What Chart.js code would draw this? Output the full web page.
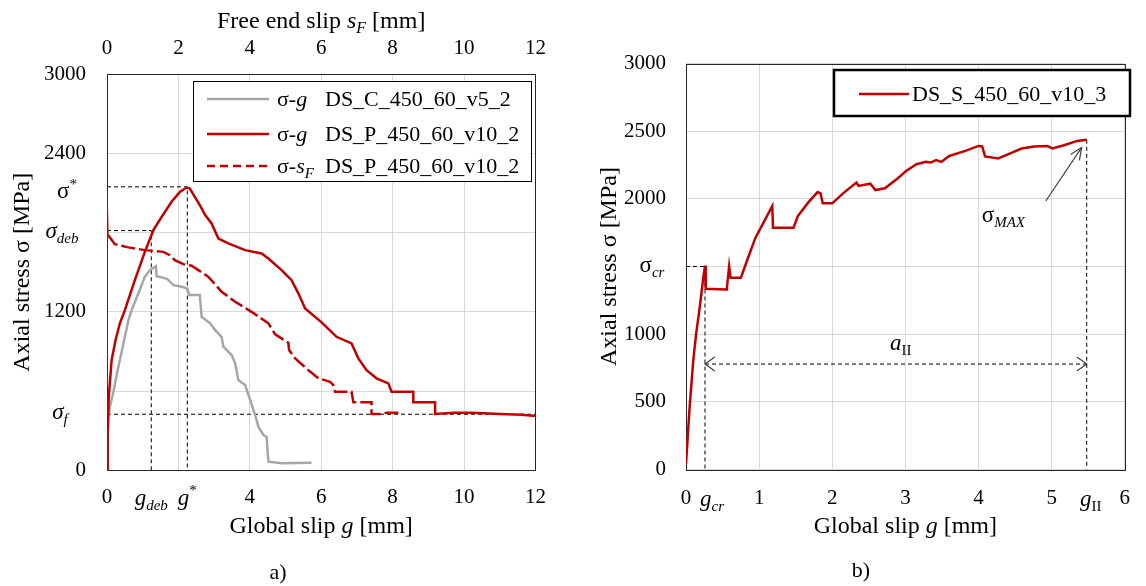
<!DOCTYPE html>
<html lang="en">
<head>
<meta charset="utf-8">
<title>Axial stress vs slip</title>
<script src="https://cdn.jsdelivr.net/npm/chart.js@4.4.1/dist/chart.umd.min.js"></script>
<style>
    html, body { margin: 0; padding: 0; background: #fff; }
    .panel { position: absolute; top: 0; width: 573px; height: 586px; }
    #panelA { left: 0; }
    #panelB { left: 573px; }
</style>
</head>
<body>
<div class="panel" id="panelA"><canvas id="chartA" width="573" height="586"></canvas></div>
<div class="panel" id="panelB"><canvas id="chartB" width="573" height="586"></canvas></div>
<script>
// a) DS_C_450_60_v5_2, stress vs global slip
var cSlip = [0, 0.02, 0.04, 0.08, 0.18, 0.27, 0.36, 0.46, 0.6, 0.69, 0.88, 1.06, 1.2, 1.37, 1.39, 1.62, 1.7, 1.86, 2.09, 2.25, 2.3, 2.6, 2.65, 2.89, 3.03, 3.21, 3.26, 3.49, 3.59, 3.68, 3.87, 4.01, 4.15, 4.24, 4.38, 4.47, 4.52, 4.89, 5.73];
var cStress = [0, 250, 400, 480, 595, 722, 835, 961, 1138, 1213, 1340, 1465, 1516, 1546, 1470, 1455, 1445, 1402, 1390, 1377, 1327, 1327, 1163, 1113, 1062, 1011, 936, 873, 810, 684, 646, 532, 419, 331, 268, 255, 66, 54, 58];

// a) DS_P_450_60_v10_2, stress vs global slip
var pSlip = [0, 0.02, 0.05, 0.13, 0.24, 0.36, 0.5, 0.78, 1.06, 1.3, 1.53, 1.81, 2.04, 2.23, 2.32, 2.46, 2.6, 2.75, 2.93, 3.12, 3.4, 3.87, 4.33, 4.52, 4.89, 5.17, 5.36, 5.55, 6.01, 6.43, 6.85, 7.04, 7.27, 7.55, 7.88, 7.97, 8.58, 8.58, 9.19, 9.19, 9.7, 10.26, 11.0, 11.62, 12.0];
var pStress = [0, 300, 560, 835, 987, 1113, 1213, 1440, 1654, 1818, 1919, 2033, 2108, 2141, 2133, 2070, 2007, 1932, 1869, 1755, 1718, 1667, 1642, 1604, 1516, 1440, 1340, 1226, 1120, 1011, 961, 848, 759, 697, 659, 595, 595, 515, 515, 427, 437, 437, 427, 422, 412];

// a) DS_P_450_60_v10_2, stress vs free end slip
var fSlip = [0.03, 0.22, 0.6, 1.06, 1.58, 1.76, 1.9, 2.14, 2.37, 2.56, 2.84, 3.21, 3.59, 4.05, 4.52, 4.71, 5.08, 5.1, 5.27, 5.64, 5.92, 6.25, 6.34, 6.39, 6.85, 6.9, 7.41, 7.41, 7.74, 7.83, 8.25];
var fStress = [1781, 1712, 1688, 1667, 1654, 1629, 1591, 1561, 1549, 1516, 1465, 1352, 1276, 1200, 1113, 1030, 966, 911, 848, 759, 697, 671, 646, 595, 595, 515, 515, 427, 427, 437, 437];
// part before the free end starts to move
var fRiseSlip = [0, 0, 0.03];
var fRiseStress = [0, 2146, 1781];

// a) characteristic points
var gDeb = 1.24, sigmaDeb = 1815;
var gStar = 2.25, sigmaStar = 2146;
var sigmaF = 425;

// b) DS_S_450_60_v10_3, stress vs global slip
var sSlip = [0, 0.05, 0.10, 0.14, 0.19, 0.23, 0.26, 0.27, 0.55, 0.56, 0.59, 0.61, 0.75, 0.84, 0.95, 1.06, 1.18, 1.19, 1.47, 1.53, 1.67, 1.80, 1.84, 1.87, 2.0, 2.16, 2.33, 2.36, 2.52, 2.59, 2.72, 2.88, 3.01, 3.15, 3.28, 3.35, 3.42, 3.49, 3.6, 3.82, 4.0, 4.05, 4.09, 4.27, 4.41, 4.59, 4.76, 4.94, 5.01, 5.17, 5.35, 5.48];
var sStress = [40, 465, 811, 1009, 1206, 1391, 1507, 1335, 1330, 1345, 1502, 1416, 1416, 1552, 1713, 1824, 1947, 1787, 1787, 1873, 1972, 2050, 2041, 1967, 1967, 2046, 2120, 2095, 2112, 2065, 2078, 2144, 2206, 2256, 2273, 2268, 2287, 2273, 2317, 2354, 2391, 2387, 2313, 2298, 2330, 2372, 2387, 2391, 2372, 2396, 2428, 2436];

// b) characteristic points
var gCr = 0.26, sigmaCr = 1500;
var gII = 5.48, sigmaMax = 2436;
var aIIStress = 779;
var maxArrowSlip = [4.92, 5.41];
var maxArrowStress = [1984, 2379];

// ticks
var slipTicksA = [0, 2, 4, 6, 8, 10, 12];
var slipLabelsA = ['0', '', '4', '6', '8', '10', '12'];
var freeSlipLabelsA = ['0', '2', '4', '6', '8', '10', '12'];
var stressTicksA = [0, 600, 1200, 1800, 2400, 3000];
var stressLabelsA = ['0', '', '1200', '', '2400', '3000'];
var slipTicksB = [0, 1, 2, 3, 4, 5, 6];
var slipLabelsB = ['0', '1', '2', '3', '4', '5', '6'];
var stressTicksB = [0, 500, 1000, 1500, 2000, 2500, 3000];
var stressLabelsB = ['0', '500', '1000', '', '2000', '2500', '3000'];

var FONT = '"Liberation Serif", "Times New Roman", serif';
var RED = '#c00000';
var GREY = '#a6a6a6';
var GRID = '#d9d9d9';

function pts(xs, ys) {
    return xs.map(function (x, i) {
        return { x: x, y: ys[i] };
    });
}

function fontFor(part, size) {
    var f = part[1] || '';
    var small = f.indexOf('b') >= 0 || f.indexOf('p') >= 0;
    var s = small ? Math.round(size * 0.66) : size;
    return (f.indexOf('i') >= 0 ? 'italic ' : '') + s + 'px ' + FONT;
}

// parts: [text, flags]; flags: i = italic, b = subscript, p = superscript
function drawRich(ctx, parts, x, y, align, size) {
    var widths = parts.map(function (p) {
        ctx.font = fontFor(p, size);
        return ctx.measureText(p[0]).width;
    });
    var total = widths.reduce(function (a, b) { return a + b; }, 0);
    var cx = align === 'center' ? x - total / 2 : (align === 'right' ? x - total : x);
    var base = y + size * 0.32;
    ctx.textAlign = 'left';
    ctx.textBaseline = 'alphabetic';
    parts.forEach(function (p, i) {
        var f = p[1] || '';
        var dy = 0;
        if (f.indexOf('b') >= 0) dy = size * 0.22;
        if (f.indexOf('p') >= 0) dy = -size * 0.42;
        ctx.font = fontFor(p, size);
        ctx.fillText(p[0], cx, base + dy);
        cx += widths[i];
    });
}

function drawFrame(chart) {
    var a = chart.chartArea, ctx = chart.ctx;
    ctx.save();
    ctx.strokeStyle = '#262626';
    ctx.lineWidth = 1;
    ctx.strokeRect(Math.round(a.left) + 0.5, Math.round(a.top) + 0.5,
        Math.round(a.right - a.left), Math.round(a.bottom - a.top));
    ctx.restore();
}

function drawLegendBox(ctx, box, rows, size) {
    ctx.save();
    ctx.fillStyle = '#fff';
    ctx.fillRect(box.x, box.y, box.w, box.h);
    ctx.strokeStyle = '#000';
    ctx.lineWidth = box.line;
    ctx.strokeRect(box.x, box.y, box.w, box.h);
    rows.forEach(function (row) {
        var ds = row.dataset;
        ctx.beginPath();
        ctx.setLineDash(row.dash || []);
        ctx.strokeStyle = ds.borderColor;
        ctx.lineWidth = ds.borderWidth;
        ctx.moveTo(row.x0, row.y);
        ctx.lineTo(row.x1, row.y);
        ctx.stroke();
        ctx.setLineDash([]);
        ctx.fillStyle = '#000';
        if (row.prefix) {
            drawRich(ctx, row.prefix, row.px, row.y, 'left', size);
        }
        drawRich(ctx, [[ds.label, '']], row.nx, row.y, 'left', size);
    });
    ctx.restore();
}

function chevron(ctx, tipX, tipY, angle, len, spread) {
    ctx.beginPath();
    ctx.moveTo(tipX + len * Math.cos(angle + spread), tipY + len * Math.sin(angle + spread));
    ctx.lineTo(tipX, tipY);
    ctx.lineTo(tipX + len * Math.cos(angle - spread), tipY + len * Math.sin(angle - spread));
    ctx.stroke();
}

function tickFont() {
    return { family: FONT, size: 21 };
}

function fixedTicks(values) {
    return function (scale) {
        scale.ticks = values.map(function (v) { return { value: v }; });
    };
}

function refLine(xs, ys, axis) {
    return {
        label: '',
        data: pts(xs, ys),
        xAxisID: axis || 'x',
        borderColor: '#000',
        borderWidth: 1,
        borderDash: [4, 3],
        pointRadius: 0,
        showLine: true,
        order: 5
    };
}

var decorA = {
    id: 'decorA',
    beforeDatasetsDraw: function (chart) {
        drawFrame(chart);
    },
    afterDatasetsDraw: function (chart) {
        var ctx = chart.ctx, x = chart.scales.x, y = chart.scales.y, a = chart.chartArea;
        var mid = (a.left + a.right) / 2;
        ctx.save();
        ctx.fillStyle = '#000';
        drawRich(ctx, [['σ', ''], ['*', 'p']], 67, y.getPixelForValue(sigmaStar) + 4, 'center', 23);
        drawRich(ctx, [['σ', 'i'], ['deb', 'ib']], 62, y.getPixelForValue(sigmaDeb), 'center', 23);
        drawRich(ctx, [['σ', 'i'], ['f', 'ib']], 60, y.getPixelForValue(sigmaF) - 3, 'center', 23);
        var ty = a.bottom + 27;
        drawRich(ctx, [['g', 'i'], ['deb', 'ib']], x.getPixelForValue(gDeb), ty, 'center', 23);
        drawRich(ctx, [['g', 'i'], ['*', 'p']], x.getPixelForValue(gStar), ty, 'center', 23);
        drawRich(ctx, [['Global slip ', ''], ['g', 'i'], [' [mm]', '']], mid, 525, 'center', 24);
        drawRich(ctx, [['Free end slip ', ''], ['s', 'i'], ['F', 'ib'], [' [mm]', '']], mid, 20, 'center', 24);
        drawRich(ctx, [['a)', '']], 278, 572, 'center', 22);

        var ds = chart.data.datasets;
        drawLegendBox(ctx, { x: 193.5, y: 81.5, w: 338, h: 100, line: 1 }, [
            { dataset: ds[0], y: 99, x0: 207, x1: 269, px: 277, nx: 325, prefix: [['σ-', ''], ['g', 'i']] },
            { dataset: ds[1], y: 134, x0: 207, x1: 269, px: 277, nx: 325, prefix: [['σ-', ''], ['g', 'i']] },
            { dataset: ds[2], y: 166, x0: 207, x1: 269, px: 277, nx: 325, dash: [8, 5], prefix: [['σ-', ''], ['s', 'i'], ['F', 'ib']] }
        ], 22);
        ctx.restore();
    }
};

var decorB = {
    id: 'decorB',
    beforeDatasetsDraw: function (chart) {
        drawFrame(chart);
    },
    afterDatasetsDraw: function (chart) {
        var ctx = chart.ctx, x = chart.scales.x, y = chart.scales.y, a = chart.chartArea;
        var mid = (a.left + a.right) / 2;
        ctx.save();
        ctx.fillStyle = '#000';
        drawRich(ctx, [['σ', ''], ['cr', 'ib']], 79, y.getPixelForValue(sigmaCr) - 2, 'center', 23);
        var ty = a.bottom + 29;
        drawRich(ctx, [['g', 'i'], ['cr', 'ib']], x.getPixelForValue(gCr) + 7, ty, 'center', 23);
        drawRich(ctx, [['g', 'i'], ['II', 'b']], x.getPixelForValue(gII) + 4, ty, 'center', 23);
        drawRich(ctx, [['Global slip ', ''], ['g', 'i'], [' [mm]', '']], mid, 525, 'center', 24);
        drawRich(ctx, [['b)', '']], 288, 570, 'center', 22);

        // a_II span arrow
        var yA = y.getPixelForValue(aIIStress);
        var x1 = x.getPixelForValue(gCr), x2 = x.getPixelForValue(gII);
        ctx.strokeStyle = '#404040';
        ctx.lineWidth = 1.2;
        chevron(ctx, x1, yA, 0, 12, 0.62);
        chevron(ctx, x2, yA, Math.PI, 12, 0.62);
        drawRich(ctx, [['a', 'i'], ['II', 'b']], (x1 + x2) / 2 + 5, yA - 21, 'center', 23);

        // sigma_MAX pointer
        var tx = x.getPixelForValue(maxArrowSlip[0]), tyy = y.getPixelForValue(maxArrowStress[0]);
        var hx = x.getPixelForValue(maxArrowSlip[1]), hy = y.getPixelForValue(maxArrowStress[1]);
        ctx.beginPath();
        ctx.moveTo(tx, tyy);
        ctx.lineTo(hx, hy);
        ctx.stroke();
        chevron(ctx, hx, hy, Math.atan2(tyy - hy, tx - hx), 13, 0.42);
        drawRich(ctx, [['σ', ''], ['MAX', 'ib']], tx - 64, tyy + 14, 'left', 23);

        var ds = chart.data.datasets;
        drawLegendBox(ctx, { x: 261, y: 70, w: 296, h: 46, line: 2.5 }, [
            { dataset: ds[0], y: 94, x0: 286, x1: 336, nx: 339 }
        ], 22);
        ctx.restore();
    }
};

new Chart(document.getElementById('chartA'), {
    type: 'scatter',
    data: {
        datasets: [
            {
                label: 'DS_C_450_60_v5_2',
                data: pts(cSlip, cStress),
                borderColor: GREY,
                borderWidth: 2.5,
                pointRadius: 0,
                showLine: true,
                order: 2
            },
            {
                label: 'DS_P_450_60_v10_2',
                data: pts(pSlip, pStress),
                borderColor: RED,
                borderWidth: 2.5,
                pointRadius: 0,
                showLine: true,
                order: 1
            },
            {
                label: 'DS_P_450_60_v10_2',
                data: pts(fSlip, fStress),
                xAxisID: 'xTop',
                borderColor: RED,
                borderWidth: 2.5,
                borderDash: [14, 4],
                pointRadius: 0,
                showLine: true,
                order: 1
            },
            {
                label: '',
                data: pts(fRiseSlip, fRiseStress),
                xAxisID: 'xTop',
                borderColor: RED,
                borderWidth: 1.2,
                pointRadius: 0,
                showLine: true,
                order: 1
            },
            refLine([0, gStar, gStar], [sigmaStar, sigmaStar, 0]),
            refLine([0, gDeb, gDeb], [sigmaDeb, sigmaDeb, 0]),
            refLine([0, 12], [sigmaF, sigmaF])
        ]
    },
    options: {
        responsive: false,
        animation: false,
        devicePixelRatio: 1,
        layout: { padding: { left: 0, top: 0, right: 37.6, bottom: 0 } },
        plugins: {
            legend: { display: false },
            tooltip: { enabled: false }
        },
        scales: {
            x: {
                type: 'linear',
                position: 'bottom',
                min: 0,
                max: 12,
                afterBuildTicks: fixedTicks(slipTicksA),
                afterFit: function (s) { s.height = 115.6; },
                grid: { color: GRID, drawTicks: false },
                border: { display: false },
                ticks: {
                    autoSkip: false,
                    maxRotation: 0,
                    padding: 14,
                    color: '#000',
                    font: tickFont(),
                    callback: function (v, i) { return slipLabelsA[i]; }
                }
            },
            xTop: {
                type: 'linear',
                position: 'top',
                min: 0,
                max: 12,
                afterBuildTicks: fixedTicks(slipTicksA),
                afterFit: function (s) { s.height = 74; },
                grid: { display: false, drawTicks: false },
                border: { display: false },
                ticks: {
                    autoSkip: false,
                    maxRotation: 0,
                    padding: 13,
                    color: '#000',
                    font: tickFont(),
                    callback: function (v, i) { return freeSlipLabelsA[i]; }
                }
            },
            y: {
                type: 'linear',
                min: 0,
                max: 3000,
                afterBuildTicks: fixedTicks(stressTicksA),
                afterFit: function (s) { s.width = 107; },
                grid: { color: GRID, drawTicks: false },
                border: { display: false },
                ticks: {
                    autoSkip: false,
                    padding: 21,
                    color: '#000',
                    font: tickFont(),
                    callback: function (v, i) { return stressLabelsA[i]; }
                },
                title: {
                    display: true,
                    text: 'Axial stress σ [MPa]',
                    color: '#000',
                    font: { family: FONT, size: 24 },
                    padding: { top: 8, bottom: 0 }
                }
            }
        }
    },
    plugins: [decorA]
});

new Chart(document.getElementById('chartB'), {
    type: 'scatter',
    data: {
        datasets: [
            {
                label: 'DS_S_450_60_v10_3',
                data: pts(sSlip, sStress),
                borderColor: RED,
                borderWidth: 2.5,
                pointRadius: 0,
                showLine: true,
                order: 1
            },
            refLine([0, gCr, gCr], [sigmaCr, sigmaCr, 0]),
            refLine([gII, gII], [sigmaMax, 0]),
            refLine([gCr, gII], [aIIStress, aIIStress])
        ]
    },
    options: {
        responsive: false,
        animation: false,
        devicePixelRatio: 1,
        layout: { padding: { left: 0, top: 63.5, right: 14.2, bottom: 0 } },
        plugins: {
            legend: { display: false },
            tooltip: { enabled: false }
        },
        scales: {
            x: {
                type: 'linear',
                position: 'bottom',
                min: 0,
                max: 6,
                afterBuildTicks: fixedTicks(slipTicksB),
                afterFit: function (s) { s.height = 116.5; },
                grid: { color: GRID, drawTicks: false },
                border: { display: false },
                ticks: {
                    autoSkip: false,
                    maxRotation: 0,
                    padding: 16,
                    color: '#000',
                    font: tickFont(),
                    callback: function (v, i) { return slipLabelsB[i]; }
                }
            },
            y: {
                type: 'linear',
                min: 0,
                max: 3000,
                afterBuildTicks: fixedTicks(stressTicksB),
                afterFit: function (s) { s.width = 113; },
                grid: { color: GRID, drawTicks: false },
                border: { display: false },
                ticks: {
                    autoSkip: false,
                    padding: 20,
                    color: '#000',
                    font: tickFont(),
                    callback: function (v, i) { return stressLabelsB[i]; }
                },
                title: {
                    display: true,
                    text: 'Axial stress σ [MPa]',
                    color: '#000',
                    font: { family: FONT, size: 24 },
                    padding: { top: 22, bottom: 0 }
                }
            }
        }
    },
    plugins: [decorB]
});
</script>
</body>
</html>
